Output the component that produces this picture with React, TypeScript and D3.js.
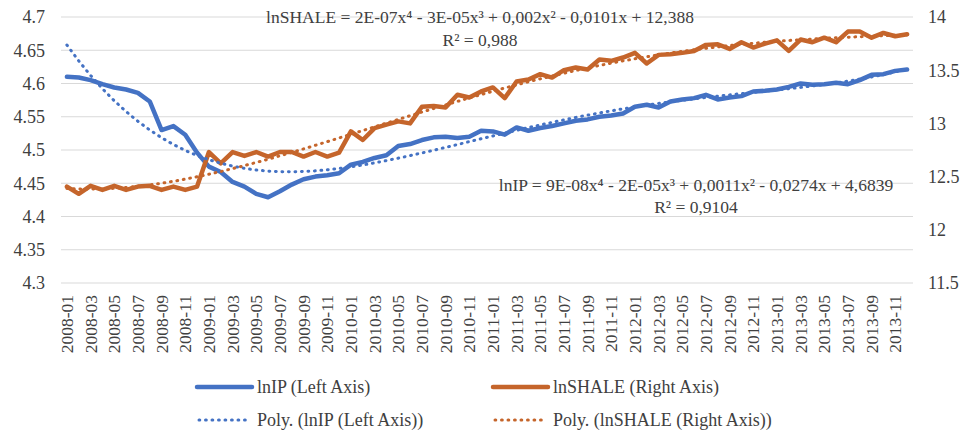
import React from "react";
import * as d3 from "d3";

// Monthly categories, 2008-01 .. 2013-12
const months: string[] = d3
  .timeMonths(new Date(2008, 0, 1), new Date(2014, 0, 1))
  .map((d) => d3.timeFormat("%Y-%m")(d));

// Log industrial production (left axis)
const lnIP: number[] = [
  4.61, 4.609, 4.605, 4.599, 4.594, 4.591, 4.586, 4.573, 4.53, 4.536, 4.523, 4.496,
  4.475, 4.467, 4.452, 4.445, 4.434, 4.429, 4.438, 4.448, 4.456, 4.46, 4.462, 4.465,
  4.478, 4.482, 4.488, 4.492, 4.506, 4.509, 4.515, 4.519, 4.52, 4.518, 4.52, 4.529,
  4.528, 4.523, 4.534, 4.529, 4.533, 4.536, 4.54, 4.544, 4.546, 4.55, 4.552, 4.555,
  4.565, 4.568, 4.564, 4.573, 4.576, 4.578, 4.583, 4.576, 4.579, 4.581, 4.588, 4.589,
  4.591, 4.595, 4.6, 4.598, 4.599, 4.601, 4.599, 4.605, 4.613, 4.614, 4.619, 4.621,
];

// Log shale production (right axis)
const lnSHALE: number[] = [
  12.406, 12.338, 12.413, 12.375, 12.413, 12.375, 12.406, 12.413, 12.375, 12.406, 12.375, 12.406,
  12.731, 12.625, 12.731, 12.694, 12.731, 12.688, 12.731, 12.731, 12.688, 12.731, 12.688, 12.725,
  12.925, 12.844, 12.956, 12.988, 13.019, 13.0, 13.156, 13.163, 13.15, 13.269, 13.244, 13.3,
  13.338, 13.238, 13.394, 13.413, 13.463, 13.431, 13.5, 13.525, 13.506, 13.6, 13.588, 13.619,
  13.663, 13.563, 13.644, 13.65, 13.663, 13.681, 13.738, 13.744, 13.7, 13.763, 13.713, 13.75,
  13.781, 13.681, 13.788, 13.763, 13.806, 13.763, 13.863, 13.863, 13.806, 13.85, 13.819, 13.838,
];

const leftTicks: number[] = [4.3, 4.35, 4.4, 4.45, 4.5, 4.55, 4.6, 4.65, 4.7];
const rightTicks: number[] = [11.5, 12, 12.5, 13, 13.5, 14];

const eqShale = ["lnSHALE = 2E-07x⁴ - 3E-05x³ + 0,002x² - 0,0101x + 12,388", "R² = 0,988"];
const eqIP = ["lnIP = 9E-08x⁴ - 2E-05x³ + 0,0011x² - 0,0274x + 4,6839", "R² = 0,9104"];

const legendItems = [
  { label: "lnIP (Left Axis)", color: "#4472C4", dotted: false },
  { label: "lnSHALE (Right Axis)", color: "#C5652B", dotted: false },
  { label: "Poly. (lnIP (Left Axis))", color: "#4472C4", dotted: true },
  { label: "Poly. (lnSHALE (Right Axis))", color: "#C5652B", dotted: true },
];

// Least-squares polynomial trend (order 4), as a spreadsheet trendline computes it
function polyFit(ys: number[], order: number): number[] {
  const n = ys.length;
  const c = (n + 1) / 2;
  const s = n / 2;
  const ts = ys.map((_, i) => (i + 1 - c) / s);
  const m = order + 1;
  const A: number[][] = Array.from({ length: m }, () => new Array(m + 1).fill(0));
  ts.forEach((t, k) => {
    const pw = Array.from({ length: m }, (_, j) => Math.pow(t, j));
    for (let r = 0; r < m; r++) {
      for (let q = 0; q < m; q++) A[r][q] += pw[r] * pw[q];
      A[r][m] += pw[r] * ys[k];
    }
  });
  for (let col = 0; col < m; col++) {
    let piv = col;
    for (let r = col + 1; r < m; r++) if (Math.abs(A[r][col]) > Math.abs(A[piv][col])) piv = r;
    [A[col], A[piv]] = [A[piv], A[col]];
    for (let r = 0; r < m; r++) {
      if (r === col) continue;
      const f = A[r][col] / A[col][col];
      for (let q = col; q <= m; q++) A[r][q] -= f * A[col][q];
    }
  }
  const coef = A.map((row, i) => row[m] / row[i]);
  return ts.map((t) => coef.reduce((acc, a, j) => acc + a * Math.pow(t, j), 0));
}

const W = 964;
const H = 433;
const FONT = '"Liberation Serif", "DejaVu Serif", "Times New Roman", Times, serif';
const TEXT = "#404040";

export default function App() {
  const x = d3.scalePoint<string>().domain(months).range([61, 913]).padding(0.5);
  const yL = d3.scaleLinear().domain([4.3, 4.7]).range([283, 17]);
  const yR = d3.scaleLinear().domain([11.5, 14]).range([283, 17]);

  const lineL = d3
    .line<number>()
    .x((_, i) => x(months[i]) as number)
    .y((d) => yL(d));
  const lineR = d3
    .line<number>()
    .x((_, i) => x(months[i]) as number)
    .y((d) => yR(d));

  const trendIP = polyFit(lnIP, 4);
  const trendShale = polyFit(lnSHALE, 4);

  const dotted = { strokeWidth: 3, strokeDasharray: "0.8 5.7", strokeLinecap: "round" as const };
  const txt = { fontFamily: FONT, fill: TEXT };

  return (
    <svg
      width={W}
      height={H}
      style={{ position: "absolute", left: 0, top: 0, background: "#fff", fontFamily: FONT }}
    >
      {/* gridlines */}
      {leftTicks.map((t) => (
        <line key={t} x1={61} x2={913} y1={yL(t)} y2={yL(t)} stroke="#D9D9D9" strokeWidth={1.2} />
      ))}

      {/* left axis labels */}
      {leftTicks.map((t) => (
        <text key={t} x={45} y={yL(t)} dy="0.35em" textAnchor="end" fontSize={18} style={txt}>
          {t}
        </text>
      ))}

      {/* right axis labels */}
      {rightTicks.map((t) => (
        <text key={t} x={928} y={yR(t)} dy="0.35em" textAnchor="start" fontSize={18} style={txt}>
          {t}
        </text>
      ))}

      {/* category labels, every other month */}
      {months.map((m, i) =>
        i % 2 === 0 ? (
          <text
            key={m}
            transform={`translate(${x(m)},295) rotate(-90)`}
            dy="0.35em"
            textAnchor="end"
            fontSize={17.5}
            style={txt}
          >
            {m}
          </text>
        ) : null
      )}

      {/* series */}
      <path d={lineL(lnIP) ?? ""} fill="none" stroke="#4472C4" strokeWidth={4.5} strokeLinejoin="round" strokeLinecap="round" />
      <path d={lineR(lnSHALE) ?? ""} fill="none" stroke="#C5652B" strokeWidth={4.5} strokeLinejoin="round" strokeLinecap="round" />

      {/* polynomial trendlines */}
      <path d={lineL(trendIP) ?? ""} fill="none" stroke="#4472C4" {...dotted} />
      <path d={lineR(trendShale) ?? ""} fill="none" stroke="#C5652B" {...dotted} />

      {/* trendline equations */}
      <text x={480} y={23} textAnchor="middle" fontSize={17.5} style={txt}>
        <tspan x={480}>{eqShale[0]}</tspan>
        <tspan x={480} dy={23}>{eqShale[1]}</tspan>
      </text>
      <text x={696} y={191} textAnchor="middle" fontSize={17.5} style={txt}>
        <tspan x={696}>{eqIP[0]}</tspan>
        <tspan x={696} dy={22}>{eqIP[1]}</tspan>
      </text>

      {/* legend */}
      {legendItems.map((item, i) => {
        const col = i % 2;
        const row = Math.floor(i / 2);
        const x0 = col === 0 ? 197 : 493;
        const yy = row === 0 ? 387 : 420;
        return (
          <g key={item.label}>
            {item.dotted ? (
              <line x1={x0 + 2} x2={x0 + 53} y1={yy} y2={yy} stroke={item.color} {...dotted} />
            ) : (
              <line x1={x0} x2={x0 + 55} y1={yy} y2={yy} stroke={item.color} strokeWidth={4.5} strokeLinecap="round" />
            )}
            <text x={x0 + 60} y={yy} dy="0.35em" fontSize={18} style={txt}>
              {item.label}
            </text>
          </g>
        );
      })}
    </svg>
  );
}
